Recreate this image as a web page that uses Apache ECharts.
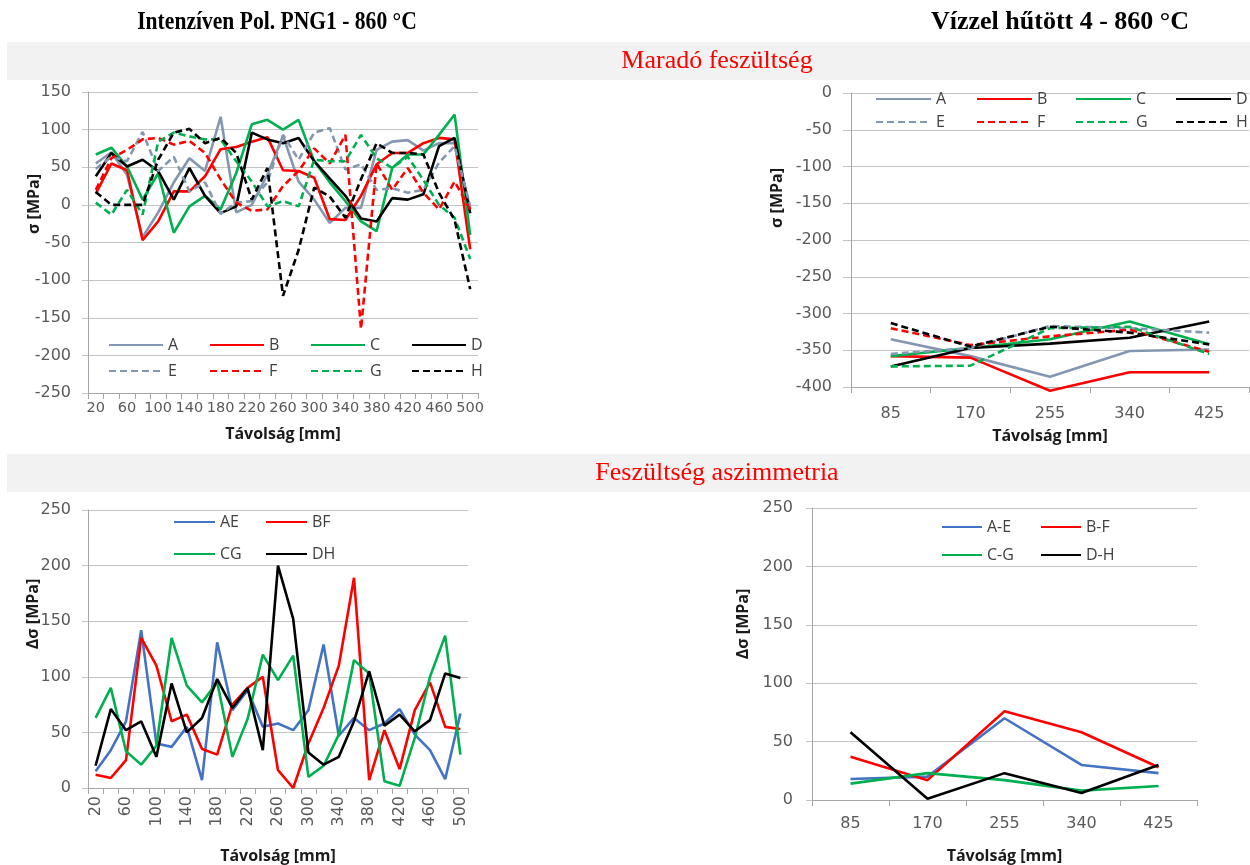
<!DOCTYPE html>
<html>
<head>
<meta charset="utf-8">
<script src="https://cdn.jsdelivr.net/npm/echarts@6/dist/echarts.min.js"></script>
<style>
html,body{margin:0;padding:0;background:#fff;}
#chart{width:1250px;height:865px;}
</style>
</head>
<body>
<div id="chart"></div>
<script>
// ---------- DATA ----------
const dist = ['20','40','60','80','100','120','140','160','180','200','220','240','260','280','300','320','340','360','380','400','420','440','460','480','500'];
const distB = ['85','170','255','340','425'];

// Maradó feszültség – Intenzíven Pol. PNG1
const A = [55, 70, 40, -43, -10, 30, 62, 45, 117, -10, 0, 40, 92, 31, 7, -24, -4, -4, 73, 84, 86, 72, 82, 82, -5];
const B = [15, 55, 46, -47, -22, 18, 18, 38, 74, 77, 84, 90, 46, 45, 36, -19, -20, 12, 54, 69, 69, 82, 89, 87, -59];
const C = [67, 76, 51, 7, 42, -37, -2, 12, -6, 42, 107, 113, 100, 113, 58, 30, 5, -22, -35, 49, 67, 67, 93, 120, -40];
const D = [38, 69, 51, 60, 45, 7, 49, 12, -11, -2, 96, 87, 82, 89, 58, 35, 12, -18, -22, 9, 7, 14, 78, 89, -11];
const E = [48, 64, 58, 97, 45, 64, 18, 30, -12, 3, 5, 30, 93, 60, 96, 102, 47, 54, 20, 22, 16, 20, 56, 78, -2];
const F = [20, 62, 73, 87, 89, 80, 85, 69, 34, 3, -8, -6, 25, 45, 75, 55, 93, -165, 55, 20, 49, 16, -6, 31, -6];
const G = [3, -13, 20, -13, 84, 96, 91, 87, 87, 58, 31, -2, 5, -2, 60, 58, 58, 93, 62, 49, 64, 33, 0, -17, -72];
const H = [17, 0, 0, 0, 60, 96, 101, 82, 89, 69, 7, 49, -121, -60, 23, 11, -17, 34, 82, 69, 69, 67, 16, -20, -112];

// Maradó feszültség – Vízzel hűtött 4
const A2 = [-335, -358, -386, -351, -349];
const B2 = [-358, -360, -405, -380, -380];
const C2 = [-358, -347, -335, -311, -342];
const D2 = [-372, -347, -341, -333, -311];
const E2 = [-355, -347, -317, -320, -326];
const F2 = [-320, -343, -331, -322, -352];
const G2 = [-372, -371, -320, -318, -355];
const H2 = [-313, -345, -318, -326, -342];

// Feszültség aszimmetria – Intenzíven Pol. PNG1
const AE = [15, 34, 60, 142, 40, 37, 55, 7, 131, 70, 88, 55, 58, 52, 70, 129, 47, 63, 52, 58, 71, 48, 34, 8, 67];
const BF = [12, 9, 25, 135, 110, 60, 66, 35, 30, 75, 90, 100, 16, 0, 40, 72, 110, 189, 7, 52, 17, 70, 95, 55, 53];
const CG = [63, 90, 33, 21, 38, 135, 92, 77, 95, 28, 62, 120, 97, 119, 10, 20, 48, 115, 103, 6, 2, 45, 100, 137, 30];
const DH = [20, 71, 52, 60, 28, 94, 50, 63, 98, 72, 90, 34, 200, 152, 32, 21, 28, 60, 105, 56, 66, 51, 61, 103, 99];

// Feszültség aszimmetria – Vízzel hűtött 4
const AE2 = [18, 20, 70, 30, 23];
const BF2 = [37, 17, 76, 58, 28];
const CG2 = [14, 23, 17, 8, 12];
const DH2 = [58, 1, 23, 6, 30];

// ---------- STYLE ----------
const SANS = '"Open Sans", "Noto Sans", sans-serif';
const TICKF = '"DejaVu Sans", "Open Sans", sans-serif';
const SERIF = '"Liberation Serif", "DejaVu Serif", serif';
const COL = {A:'#8497B0', B:'#FF0000', C:'#00B050', D:'#000000', AE:'#4472C4'};
const AXC = '#A6A6A6', GRIDC = '#C4C4C4', LBL = '#595959';

function lbl(extra) {
  return Object.assign({fontSize: 16, color: LBL, fontFamily: TICKF}, extra);
}
function xCat(gi, data, opts) {
  return Object.assign({
    gridIndex: gi, type: 'category', data: data, boundaryGap: true,
    axisLine: {onZero: false, lineStyle: {color: AXC}},
    axisTick: {show: true, interval: 0, length: 6, lineStyle: {color: AXC}},
    splitLine: {show: false},
    name: 'Távolság [mm]', nameLocation: 'middle',
    nameTextStyle: {fontWeight: 'bold', fontSize: 16, color: '#1a1a1a', fontFamily: SANS}
  }, opts);
}
function yVal(gi, min, max, margin, tick) {
  return {
    gridIndex: gi, type: 'value', min: min, max: max, interval: 50,
    axisLine: {show: true, lineStyle: {color: AXC}},
    axisTick: {show: true, length: tick, lineStyle: {color: GRIDC}},
    axisLabel: lbl({margin: margin}),
    splitLine: {show: true, lineStyle: {color: GRIDC, width: 1}}
  };
}
function ser(name, data, color, dashed, gi, clip) {
  return {
    name: name, type: 'line', data: data, xAxisIndex: gi, yAxisIndex: gi,
    symbol: 'none', showSymbol: false, color: color, clip: clip !== false,
    itemStyle: {color: color, opacity: 0},
    lineStyle: {color: color, width: 2.6, type: dashed ? [7, 4] : 'solid', opacity: 1},
    emphasis: {disabled: true},
    animation: false
  };
}
function leg(name, left, cy, w) {
  return {
    data: [name], left: left, top: cy - 9, itemWidth: w, itemHeight: 14, itemGap: 0,
    padding: 0, selectedMode: false,
    itemStyle: {opacity: 0, borderWidth: 0},
    textStyle: {fontSize: 16, color: '#404040', fontFamily: SANS, padding: [0, 0, 0, 0]}
  };
}
function yName(text, x, y) {
  return {
    type: 'text', x: x, y: y, rotation: Math.PI / 2,
    style: {text: text, fontSize: 16, fontWeight: 'bold', fontFamily: SANS, fill: '#1a1a1a',
            textAlign: 'center', textVerticalAlign: 'middle'}
  };
}
function hText(text, x, y, size, bold, color, sx) {
  return {
    type: 'text', x: x, y: y, scaleX: sx || 1,
    style: {text: text, fontSize: size, fontWeight: bold ? 'bold' : 'normal', fontFamily: SERIF,
            fill: color, textAlign: 'center', textVerticalAlign: 'middle'}
  };
}

const option = {
  animation: false,
  backgroundColor: '#ffffff',
  grid: [
    {left: 88, top: 92, width: 390, height: 301},
    {left: 851, top: 93, width: 398, height: 294},
    {left: 88, top: 510, width: 380, height: 283},
    {left: 812, top: 508, width: 385, height: 296}
  ],
  xAxis: [
    xCat(0, dist, {nameGap: 33, axisLabel: lbl({interval: 1, margin: 8, fontSize: 14.5})}),
    xCat(1, distB, {nameGap: 41, axisLabel: lbl({interval: 0, margin: 19})}),
    xCat(2, dist, {nameGap: 60, axisLabel: lbl({interval: 1, rotate: 90, margin: 8})}),
    xCat(3, distB, {nameGap: 48, axisLabel: lbl({interval: 0, margin: 16})})
  ],
  yAxis: [
    yVal(0, -250, 150, 17, 6),
    yVal(1, -400, 0, 19, 8),
    yVal(2, 0, 250, 17, 6),
    yVal(3, 0, 250, 19, 6)
  ],
  legend: [
    leg('A', 108, 346, 54), leg('B', 209, 346, 54), leg('C', 310, 346, 54), leg('D', 411, 346, 54),
    leg('E', 108, 372, 54), leg('F', 209, 372, 54), leg('G', 310, 372, 54), leg('H', 411, 372, 54),
    leg('A', 875, 100, 55), leg('B', 976, 100, 55), leg('C', 1075, 100, 55), leg('D', 1175, 100, 55),
    leg('E', 875, 123, 55), leg('F', 976, 123, 55), leg('G', 1075, 123, 55), leg('H', 1175, 123, 55),
    leg('AE', 173, 523, 41), leg('BF', 265, 523, 41), leg('CG', 173, 555, 41), leg('DH', 265, 555, 41),
    leg('A-E', 941, 528, 40), leg('B-F', 1040, 528, 40), leg('C-G', 941, 556, 40), leg('D-H', 1040, 556, 40)
  ],
  series: [
    ser('A', A, COL.A, false, 0), ser('B', B, COL.B, false, 0), ser('C', C, COL.C, false, 0), ser('D', D, COL.D, false, 0),
    ser('E', E, COL.A, true, 0), ser('F', F, COL.B, true, 0), ser('G', G, COL.C, true, 0), ser('H', H, COL.D, true, 0),
    ser('A', A2, COL.A, false, 1, false), ser('B', B2, COL.B, false, 1, false), ser('C', C2, COL.C, false, 1, false), ser('D', D2, COL.D, false, 1, false),
    ser('E', E2, COL.A, true, 1, false), ser('F', F2, COL.B, true, 1, false), ser('G', G2, COL.C, true, 1, false), ser('H', H2, COL.D, true, 1, false),
    ser('AE', AE, COL.AE, false, 2), ser('BF', BF, COL.B, false, 2), ser('CG', CG, COL.C, false, 2), ser('DH', DH, COL.D, false, 2),
    ser('A-E', AE2, COL.AE, false, 3), ser('B-F', BF2, COL.B, false, 3), ser('C-G', CG2, COL.C, false, 3), ser('D-H', DH2, COL.D, false, 3)
  ],
  graphic: [
    {type: 'rect', shape: {x: 7, y: 42, width: 1243, height: 38}, style: {fill: '#F2F2F2'}, z: -10},
    {type: 'rect', shape: {x: 7, y: 454, width: 1243, height: 38}, style: {fill: '#F2F2F2'}, z: -10},
    hText('Intenzíven Pol. PNG1 - 860 °C', 277, 22, 26, true, '#000000', 0.83),
    hText('Vízzel hűtött 4 - 860 °C', 1060, 22, 26, true, '#000000'),
    hText('Maradó feszültség', 717, 61, 26, false, '#FF0000'),
    hText('Feszültség aszimmetria', 717, 473, 26, false, '#FF0000'),
    yName('σ [MPa]', 34, 204),
    yName('σ [MPa]', 777, 198),
    yName('Δσ [MPa]', 33, 614),
    yName('Δσ [MPa]', 743, 624)
  ]
};

const chart = echarts.init(document.getElementById('chart'), null, {renderer: 'canvas'});
chart.setOption(option);
</script>
</body>
</html>
